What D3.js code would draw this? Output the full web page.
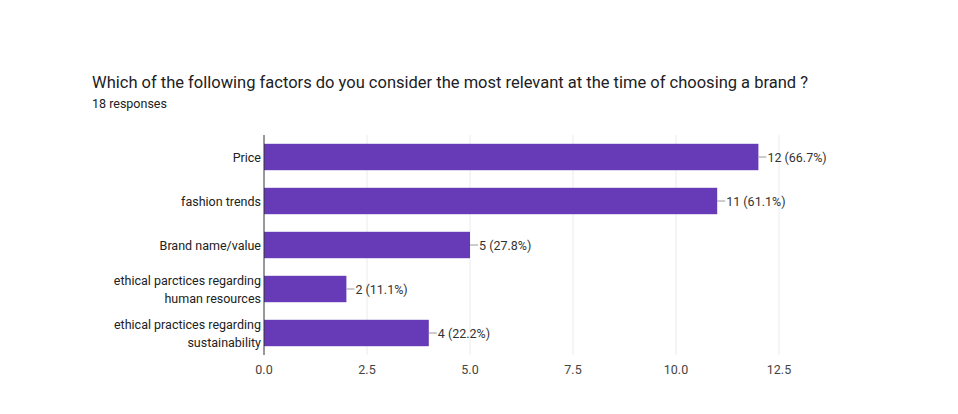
<!DOCTYPE html><html><head><script src="https://cdn.jsdelivr.net/npm/d3@7"></script>
<style>body{margin:0;background:#fff;font-family:Roboto,Arial,sans-serif}</style></head><body><svg id="c" width="958" height="414"></svg>
<script>
const categories=[["Price"],["fashion trends"],["Brand name/value"],["ethical parctices regarding","human resources"],["ethical practices regarding","sustainability"]];
const values=[12,11,5,2,4];
const labels=["12 (66.7%)","11 (61.1%)","5 (27.8%)","2 (11.1%)","4 (22.2%)"];
const ticks=[0,2.5,5,7.5,10,12.5];
const svg=d3.select("#c");
svg.append("text").attr("x",92).attr("y",88).attr("font-size",16.5).attr("fill","#202124").text("Which of the following factors do you consider the most relevant at the time of choosing a brand ?");
svg.append("text").attr("x",92).attr("y",108).attr("font-size",12.5).attr("fill","#202124").text("18 responses");
const x=d3.scaleLinear().domain([0,12.5]).range([264,779]);
const y=d3.scaleBand().domain(d3.range(5)).range([135,355]).paddingInner(0.4).paddingOuter(0.2);
const g=svg.append("g");
g.selectAll("line.g").data(ticks.slice(1)).join("line").attr("x1",d=>x(d)).attr("x2",d=>x(d)).attr("y1",135).attr("y2",355).attr("stroke","#ebebeb");
g.selectAll("rect").data(values).join("rect").attr("x",x(0)).attr("y",(d,i)=>y(i)).attr("width",d=>x(d)-x(0)).attr("height",y.bandwidth()).attr("fill","#673ab7");
g.selectAll("line.l").data(values).join("line").attr("x1",d=>x(d)).attr("x2",d=>x(d)+8).attr("y1",(d,i)=>y(i)+y.bandwidth()/2).attr("y2",(d,i)=>y(i)+y.bandwidth()/2).attr("stroke","#999");
g.selectAll("text.v").data(values).join("text").attr("x",d=>x(d)+9).attr("y",(d,i)=>y(i)+y.bandwidth()/2+4.5).attr("font-size",12.5).attr("fill","#333").text((d,i)=>labels[i]);
g.append("line").attr("x1",264).attr("x2",264).attr("y1",135).attr("y2",355).attr("stroke","#333");
categories.forEach((c,i)=>{const cy=y(i)+y.bandwidth()/2;const n=c.length;
 c.forEach((t,j)=>g.append("text").attr("x",261).attr("y",cy+4.5+(j-(n-1)/2)*18).attr("text-anchor","end").attr("font-size",12.5).attr("fill","#222").text(t));});
g.selectAll("text.t").data(ticks).join("text").attr("x",d=>x(d)).attr("y",374).attr("text-anchor","middle").attr("font-size",12.5).attr("fill","#444").text(d=>d.toFixed(1));
</script></body></html>
